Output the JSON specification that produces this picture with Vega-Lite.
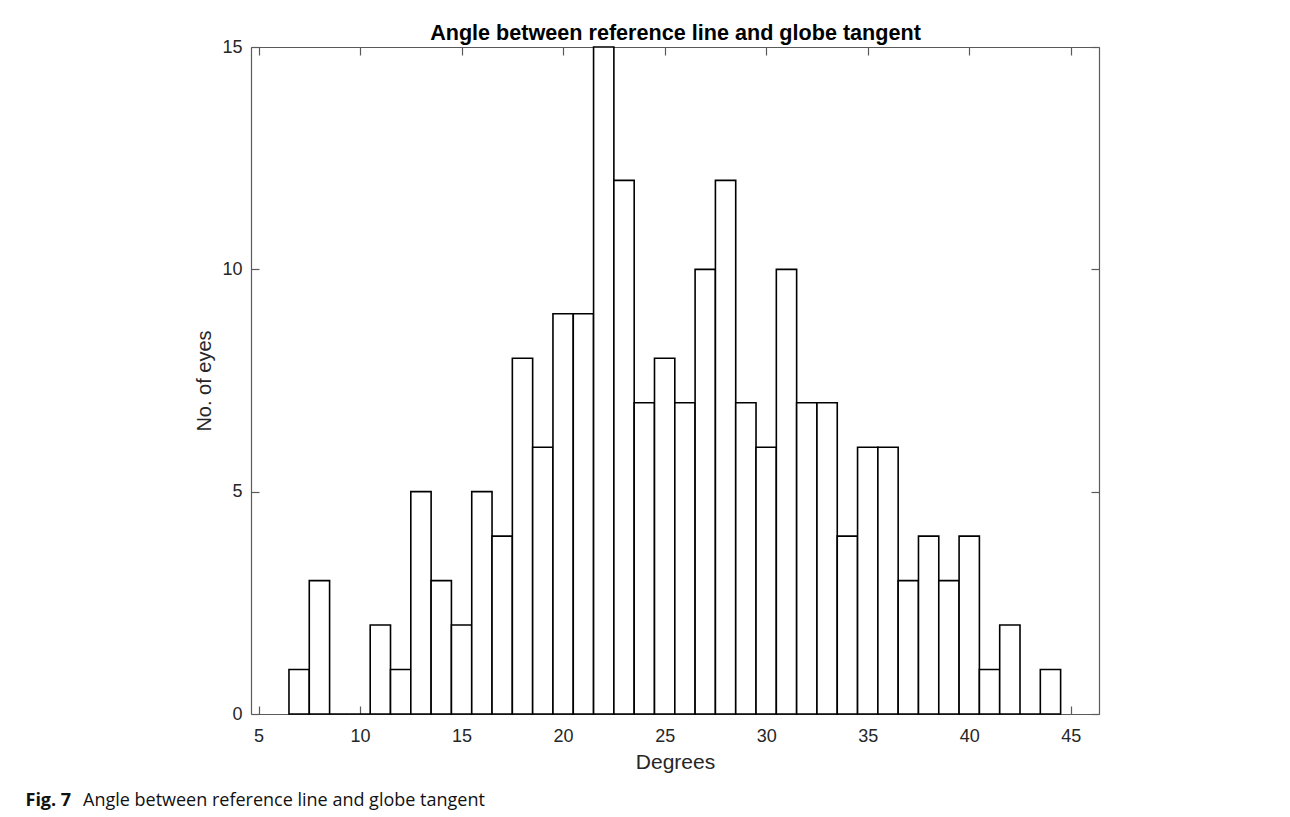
{
  "$schema": "https://vega.github.io/schema/vega-lite/v6.json",
  "width": 848,
  "height": 667,
  "autosize": {"type": "none"},
  "padding": {"left": 251, "top": 47, "right": 191, "bottom": 103},
  "background": "white",
  "config": {
    "view": {"stroke": null},
    "axis": {
      "zindex": 0,
      "grid": false,
      "domain": true,
      "domainColor": "#5a5a5a",
      "domainWidth": 1.2,
      "tickColor": "#5a5a5a",
      "tickWidth": 1.2,
      "tickSize": -8,
      "labelFont": "Liberation Sans",
      "labelFontSize": 18,
      "labelColor": "#262626",
      "titleFont": "Liberation Sans",
      "titleFontWeight": "normal",
      "titleColor": "#262626"
    }
  },
  "title": {
    "text": "Angle between reference line and globe tangent",
    "orient": "bottom",
    "anchor": "start",
    "frame": "group",
    "dx": -168,
    "offset": -3,
    "baseline": "alphabetic",
    "font": "Open Sans",
    "fontSize": 18,
    "fontWeight": "normal",
    "color": "#111"
  },
  "data": {
    "values": [
      {"start": 6.5, "end": 7.5, "count": 1},
      {"start": 7.5, "end": 8.5, "count": 3},
      {"start": 8.5, "end": 9.5, "count": 0},
      {"start": 9.5, "end": 10.5, "count": 0},
      {"start": 10.5, "end": 11.5, "count": 2},
      {"start": 11.5, "end": 12.5, "count": 1},
      {"start": 12.5, "end": 13.5, "count": 5},
      {"start": 13.5, "end": 14.5, "count": 3},
      {"start": 14.5, "end": 15.5, "count": 2},
      {"start": 15.5, "end": 16.5, "count": 5},
      {"start": 16.5, "end": 17.5, "count": 4},
      {"start": 17.5, "end": 18.5, "count": 8},
      {"start": 18.5, "end": 19.5, "count": 6},
      {"start": 19.5, "end": 20.5, "count": 9},
      {"start": 20.5, "end": 21.5, "count": 9},
      {"start": 21.5, "end": 22.5, "count": 15},
      {"start": 22.5, "end": 23.5, "count": 12},
      {"start": 23.5, "end": 24.5, "count": 7},
      {"start": 24.5, "end": 25.5, "count": 8},
      {"start": 25.5, "end": 26.5, "count": 7},
      {"start": 26.5, "end": 27.5, "count": 10},
      {"start": 27.5, "end": 28.5, "count": 12},
      {"start": 28.5, "end": 29.5, "count": 7},
      {"start": 29.5, "end": 30.5, "count": 6},
      {"start": 30.5, "end": 31.5, "count": 10},
      {"start": 31.5, "end": 32.5, "count": 7},
      {"start": 32.5, "end": 33.5, "count": 7},
      {"start": 33.5, "end": 34.5, "count": 4},
      {"start": 34.5, "end": 35.5, "count": 6},
      {"start": 35.5, "end": 36.5, "count": 6},
      {"start": 36.5, "end": 37.5, "count": 3},
      {"start": 37.5, "end": 38.5, "count": 4},
      {"start": 38.5, "end": 39.5, "count": 3},
      {"start": 39.5, "end": 40.5, "count": 4},
      {"start": 40.5, "end": 41.5, "count": 1},
      {"start": 41.5, "end": 42.5, "count": 2},
      {"start": 42.5, "end": 43.5, "count": 0},
      {"start": 43.5, "end": 44.5, "count": 1}
    ]
  },
  "layer": [
    {
      "mark": {"type": "bar", "fill": "white", "stroke": "#000", "strokeWidth": 1.6},
      "encoding": {
        "x": {
          "field": "start",
          "type": "quantitative",
          "scale": {"domain": [4.63, 46.39], "nice": false, "zero": false},
          "axis": {
            "orient": "bottom",
            "values": [5, 10, 15, 20, 25, 30, 35, 40, 45],
            "title": "Degrees",
            "titleFontSize": 21,
            "titleBaseline": "alphabetic",
            "titleY": 54,
            "labelPadding": 21,
            "labelBaseline": "top"
          }
        },
        "x2": {"field": "end"},
        "y": {
          "field": "count",
          "type": "quantitative",
          "scale": {"domain": [0, 15], "nice": false},
          "axis": {
            "orient": "left",
            "values": [0, 5, 10, 15],
            "title": "No. of eyes",
            "titleFontSize": 20,
            "titleAngle": -90,
            "titleBaseline": "alphabetic",
            "titleX": -41,
            "labelPadding": 17
          }
        },
        "y2": {"datum": 0}
      }
    },
    {
      "mark": {"type": "bar", "opacity": 0},
      "encoding": {
        "x": {
          "field": "start",
          "type": "quantitative",
          "scale": {"domain": [4.63, 46.39], "nice": false, "zero": false},
          "axis": {
            "orient": "top",
            "values": [5, 10, 15, 20, 25, 30, 35, 40, 45],
            "labels": false,
            "title": "Angle between reference line and globe tangent",
            "titleFontSize": 21.6,
            "titleFontWeight": "bold",
            "titleColor": "#000",
            "titleBaseline": "alphabetic",
            "titleY": -8
          }
        },
        "x2": {"field": "end"},
        "y": {
          "field": "count",
          "type": "quantitative",
          "scale": {"domain": [0, 15], "nice": false},
          "axis": {
            "orient": "right",
            "values": [0, 5, 10, 15],
            "labels": false,
            "title": "Fig. 7",
            "titleAngle": 0,
            "titleAlign": "left",
            "titleBaseline": "alphabetic",
            "titleX": -1074,
            "titleY": 758,
            "titleFont": "Open Sans",
            "titleFontSize": 18,
            "titleFontWeight": "bold",
            "titleColor": "#111"
          }
        },
        "y2": {"datum": 0}
      }
    }
  ],
  "resolve": {"axis": {"x": "independent", "y": "independent"}}
}
